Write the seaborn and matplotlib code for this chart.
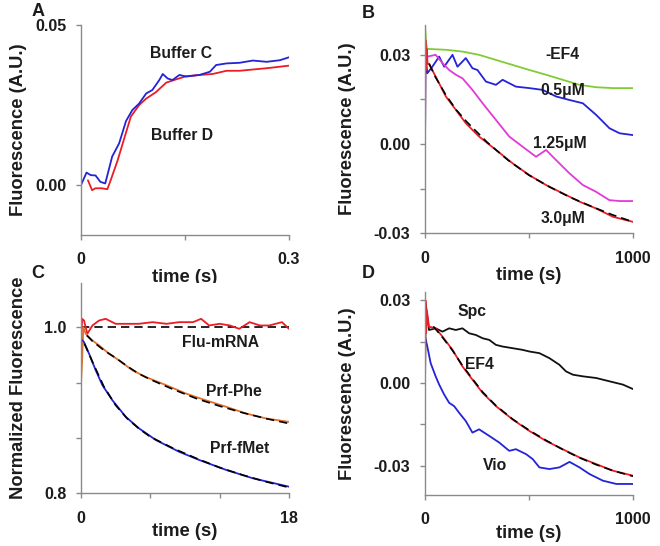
import seaborn as sns
import pandas as pd
import matplotlib.pyplot as plt

# panel A
a_c_t = [0, 0.008, 0.014, 0.021, 0.028, 0.035, 0.038, 0.045, 0.055, 0.065, 0.074, 0.084, 0.094, 0.103,
         0.113, 0.118, 0.125, 0.132, 0.142, 0.152, 0.171, 0.186, 0.195, 0.21, 0.229, 0.248, 0.268, 0.287, 0.3]
a_c_v = [0, 0.0039, 0.0031, 0.003, 0.001, 0.0005, 0.003, 0.0089, 0.013, 0.02, 0.0234, 0.0255, 0.0286, 0.0297,
         0.0328, 0.0347, 0.0333, 0.0328, 0.0344, 0.0339, 0.0344, 0.0354, 0.0375, 0.038, 0.0382, 0.0389, 0.0385,
         0.039, 0.0399]
a_d_t = [0.01, 0.016, 0.021, 0.03, 0.038, 0.043, 0.053, 0.063, 0.072, 0.084, 0.094, 0.108, 0.123, 0.137,
         0.152, 0.171, 0.19, 0.21, 0.229, 0.248, 0.268, 0.3]
a_d_v = [0.0015, -0.0016, -0.001, -0.001, -0.0013, 0.0016, 0.0078, 0.015, 0.0214, 0.025, 0.027, 0.029, 0.032,
         0.033, 0.034, 0.0344, 0.0347, 0.0357, 0.0357, 0.0361, 0.0365, 0.0373]

# panel B
b_t_green = [0, 5, 10, 100, 180, 260, 340, 421, 502, 582, 662, 743, 823, 904, 1000]
b_v_green = [0.04, 0.034, 0.032, 0.0317, 0.0311, 0.03, 0.0283, 0.0266, 0.0249, 0.0233, 0.0216, 0.0199, 0.0191,
             0.0188, 0.0188]
b_t_blue = [0, 2, 5, 11, 35, 68, 92, 132, 156, 196, 228, 252, 293, 341, 373, 437, 502, 566, 630, 695, 759,
            823, 887, 936, 1000]
b_v_blue = [0, 0.025, 0.028, 0.0238, 0.026, 0.0294, 0.026, 0.03, 0.026, 0.0289, 0.0255, 0.0249, 0.021, 0.0199,
            0.0216, 0.0193, 0.0188, 0.0182, 0.016, 0.0148, 0.0137, 0.0098, 0.0053, 0.0036, 0.003]
b_t_mag = [0, 5, 11, 51, 84, 116, 148, 180, 228, 277, 341, 405, 469, 534, 582, 630, 695, 759, 823, 887, 936,
           1000]
b_v_mag = [0.03, 0.028, 0.0294, 0.03, 0.0272, 0.0249, 0.0233, 0.0221, 0.0182, 0.0137, 0.0081, 0.0025, -0.0009,
           -0.0043, -0.002, -0.0054, -0.0099, -0.0138, -0.0161, -0.0189, -0.0192, -0.0192]
b_t_red = [0, 2, 5, 8, 12, 19, 51, 100, 148, 196, 260, 341, 421, 502, 582, 662, 743, 823, 904, 1000]
b_v_red = [0, 0.035, 0.025, 0.032, 0.027, 0.027, 0.0227, 0.016, 0.0115, 0.007, 0.0025, -0.002, -0.0065,
           -0.0105, -0.0138, -0.0166, -0.0194, -0.0217, -0.0245, -0.0262]
b_fit_t = [20, 50, 100, 150, 200, 300, 400, 500, 600, 700, 800, 900, 1000]
b_fit_v = [0.027, 0.0225, 0.0165, 0.0115, 0.0075, 0.0005, -0.0055, -0.0105, -0.0145, -0.018, -0.021, -0.0238,
           -0.0262]

# panel C
c_t_red = [0, 0.1, 0.26, 0.55, 0.99, 1.57, 2.14, 3.0, 3.9, 5.0, 6.2, 7.4, 8.5, 9.7, 10.4, 11.1, 12.0, 12.9,
           13.7, 14.6, 15.5, 16.3, 17.4, 18]
c_v_red = [0.975, 1.01, 1.008, 0.992, 1.002, 1.008, 1.01, 1.004, 1.004, 1.004, 1.006, 1.004, 1.006, 1.006, 1.01,
           1.002, 1.004, 1.002, 0.998, 1.006, 1.002, 1.002, 1.006, 0.998]
c_t_orange = [0, 0.1, 0.2, 0.41, 0.99, 1.57, 2.43, 3.3, 4.46, 5.6, 7.4, 9.1, 10.8, 12.6, 14.3, 16.06, 18]
c_v_orange = [0.932, 0.96, 1.0, 0.992, 0.984, 0.978, 0.968, 0.96, 0.948, 0.94, 0.93, 0.92, 0.912, 0.904, 0.896,
              0.89, 0.886]
c_t_blue = [0, 0.26, 0.7, 1.28, 1.86, 2.72, 3.88, 5.04, 6.5, 8.5, 10.26, 12.6, 14.9, 18]
c_v_blue = [0.986, 0.982, 0.968, 0.948, 0.93, 0.912, 0.892, 0.878, 0.864, 0.85, 0.84, 0.828, 0.818, 0.808]
c_fit_flat_t = [0, 18]
c_fit_flat_v = [1.0, 1.0]
c_fit_phe_t = [0.5, 1, 2, 3, 4, 5, 6, 8, 10, 12, 14, 16, 18]
c_fit_phe_v = [0.99, 0.983, 0.972, 0.963, 0.953, 0.944, 0.937, 0.925, 0.914, 0.905, 0.897, 0.89, 0.884]
c_fit_met_t = [0.3, 1, 2, 3, 4, 5, 6, 8, 10, 12, 14, 16, 18]
c_fit_met_v = [0.98, 0.958, 0.928, 0.906, 0.89, 0.878, 0.868, 0.854, 0.842, 0.831, 0.822, 0.814, 0.807]

# panel D
d_t_black = [0, 3, 19, 51, 84, 116, 148, 180, 212, 244, 277, 309, 341, 373, 421, 469, 502, 550, 598, 646, 678,
             711, 759, 823, 887, 952, 1000]
d_v_black = [0.0, 0.029, 0.0192, 0.0198, 0.0186, 0.0198, 0.0192, 0.0198, 0.018, 0.0174, 0.0162, 0.0156, 0.0138,
             0.0132, 0.0126, 0.012, 0.0114, 0.0108, 0.009, 0.0066, 0.0042, 0.003, 0.0024, 0.0018, 0.0006,
             -0.0006, -0.0022]
d_t_red = [0, 2, 5, 9, 19, 51, 84, 132, 180, 228, 277, 341, 421, 502, 582, 662, 743, 823, 904, 1000]
d_v_red = [0, 0.03, 0.018, 0.026, 0.0204, 0.0198, 0.0168, 0.012, 0.006, 0.0012, -0.0036, -0.0084, -0.0132,
           -0.0174, -0.021, -0.024, -0.027, -0.0294, -0.0318, -0.0336]
d_t_blue = [0, 11, 27, 51, 68, 92, 116, 140, 164, 196, 228, 260, 309, 357, 405, 437, 486, 518, 550, 598, 646,
            695, 743, 791, 855, 920, 1000]
d_v_blue = [0.0168, 0.0132, 0.0072, 0.0024, -0.0006, -0.0042, -0.0072, -0.0084, -0.0108, -0.0138, -0.018,
            -0.0168, -0.0192, -0.0216, -0.0246, -0.024, -0.0258, -0.0276, -0.0306, -0.0312, -0.0306, -0.0286,
            -0.0306, -0.033, -0.0354, -0.0366, -0.0366]
d_fit_t = [40, 84, 132, 180, 228, 277, 341, 421, 502, 582, 662, 743, 823, 904, 1000]
d_fit_v = [0.0205, 0.0165, 0.0118, 0.0063, 0.0015, -0.0033, -0.0082, -0.0131, -0.0172, -0.0208, -0.0241,
           -0.0271, -0.0296, -0.0318, -0.0338]

BLUE = '#2323d8'
RED = '#ec1c24'
GREEN = '#80cc36'
MAGENTA = '#e23ad6'
ORANGE = '#e2702a'
TXT = '#1c1c1c'
SPINE = '#8a8a8a'


def pandas_frame(t, v):
    return pd.DataFrame({'t': t, 'v': v})


def draw(ax, t, v, color, dashed=False):
    sns.lineplot(data=pandas_frame(t, v), x='t', y='v', ax=ax, color=color, lw=1.2 if dashed else 1.3,
                 estimator=None, sort=False)
    if dashed:
        ax.lines[-1].set_dashes([5, 3])


def style_axis(ax, xlim, ylim, xticks, xlabels, yticks, ylabels, ylabel, xlabelpad, ylabel_x):
    ax.set_xlim(*xlim)
    ax.set_ylim(*ylim)
    ax.set_xticks(xticks)
    ax.set_xticklabels(xlabels)
    ax.set_yticks(yticks)
    ax.set_yticklabels(ylabels)
    ax.set_xlabel('time (s)', fontsize=13.2, fontweight='bold', color=TXT, labelpad=xlabelpad)
    ax.set_ylabel(ylabel, fontsize=13.2, fontweight='bold', color=TXT)
    ax.yaxis.set_label_coords(ylabel_x, 0.5)
    sns.despine(ax=ax)
    for s in ('left', 'bottom'):
        ax.spines[s].set_color(SPINE)
        ax.spines[s].set_linewidth(1.0)
    ax.tick_params(axis='x', length=3.5, width=1, color=SPINE, pad=9, labelsize=11.5, labelcolor=TXT)
    ax.tick_params(axis='y', length=3.5, width=1, color=SPINE, pad=7, labelsize=11.5, labelcolor=TXT)
    for lab in ax.get_xticklabels() + ax.get_yticklabels():
        lab.set_fontweight('bold')


def label(ax, x, y, s):
    ax.text(x, y, s, fontsize=11.3, fontweight='bold', color=TXT, ha='center', va='center')


def letter(fig, x, y, s):
    fig.text(x / 660, 1 - y / 546, s, fontsize=13, fontweight='bold', color=TXT, ha='center', va='center')


def main():
    sns.set_style('ticks')
    plt.rcParams['font.family'] = ['Liberation Sans', 'DejaVu Sans']
    fig = plt.figure(figsize=(6.6, 5.46), dpi=100)

    ax_a = fig.add_axes([0.1227, 0.5696, 0.315, 0.3846])
    draw(ax_a, a_d_t, a_d_v, RED)
    draw(ax_a, a_c_t, a_c_v, BLUE)
    style_axis(ax_a, (0, 0.3), (-0.0156, 0.05), [0, 0.15, 0.3], ['0', '', '0.3'],
               [0, 0.05], ['0.00', '0.05'], 'Fluorescence (A.U.)', 1, -0.262)
    label(ax_a, 0.144, 0.0411, 'Buffer C')
    label(ax_a, 0.146, 0.0156, 'Buffer D')

    ax_b = fig.add_axes([0.644, 0.573, 0.315, 0.381])
    draw(ax_b, b_t_green, b_v_green, GREEN)
    draw(ax_b, b_t_blue, b_v_blue, BLUE)
    draw(ax_b, b_t_mag, b_v_mag, MAGENTA)
    draw(ax_b, b_t_red, b_v_red, RED)
    draw(ax_b, b_fit_t, b_fit_v, 'black', dashed=True)
    style_axis(ax_b, (0, 1000), (-0.03, 0.04), [0, 500, 1000], ['0', '', '1000'],
               [-0.03, -0.015, 0, 0.015, 0.03], ['-0.03', '', '0.00', '', '0.03'], 'Fluorescence (A.U.)', 1,
               -0.33)
    label(ax_b, 662, 0.030, '-EF4')
    label(ax_b, 662, 0.018, '0.5μM')
    label(ax_b, 646, 0.0002, '1.25μM')
    label(ax_b, 662, -0.025, '3.0μM')

    ax_c = fig.add_axes([0.1227, 0.0965, 0.315, 0.385])
    draw(ax_c, c_fit_flat_t, c_fit_flat_v, 'black', dashed=True)
    draw(ax_c, c_t_red, c_v_red, RED)
    draw(ax_c, c_t_orange, c_v_orange, ORANGE)
    draw(ax_c, c_t_blue, c_v_blue, BLUE)
    draw(ax_c, c_fit_phe_t, c_fit_phe_v, 'black', dashed=True)
    draw(ax_c, c_fit_met_t, c_fit_met_v, 'black', dashed=True)
    style_axis(ax_c, (0, 18), (0.8, 1.053), [0, 6, 12, 18], ['0', '', '', '18'],
               [0.8, 0.8667, 0.9333, 1.0], ['0.8', '', '', '1.0'], 'Normalized Fluorescence', -2, -0.262)
    label(ax_c, 12.1, 0.982, 'Flu-mRNA')
    label(ax_c, 13.2, 0.922, 'Prf-Phe')
    label(ax_c, 13.7, 0.854, 'Prf-fMet')

    ax_d = fig.add_axes([0.644, 0.0934, 0.315, 0.372])
    draw(ax_d, d_t_blue, d_v_blue, BLUE)
    draw(ax_d, d_t_black, d_v_black, '#111111')
    draw(ax_d, d_t_red, d_v_red, RED)
    draw(ax_d, d_fit_t, d_fit_v, 'black', dashed=True)
    style_axis(ax_d, (0, 1000), (-0.0406, 0.033), [0, 500, 1000], ['0', '', '1000'],
               [-0.03, -0.015, 0, 0.015, 0.03], ['-0.03', '', '0.00', '', '0.03'], 'Fluorescence (A.U.)', -2,
               -0.33)
    label(ax_d, 228, 0.0258, 'Spc')
    label(ax_d, 260, 0.0066, 'EF4')
    label(ax_d, 338, -0.030, 'Vio')

    letter(fig, 38, 12, 'A')
    letter(fig, 368, 13, 'B')
    letter(fig, 38, 273, 'C')
    letter(fig, 368, 273, 'D')

    fig.savefig('out.png', dpi=100)


if __name__ == '__main__':
    main()
